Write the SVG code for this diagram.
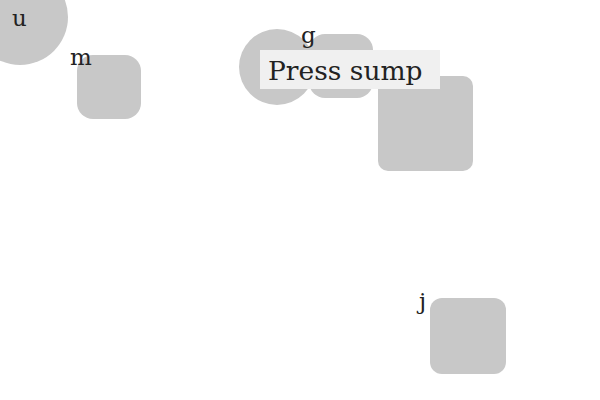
<svg xmlns="http://www.w3.org/2000/svg" width="600" height="400" viewBox="0 0 600 400">
<style>
.n{fill:#c8c8c8}
.t{font-family:"DejaVu Serif","Liberation Serif",serif;fill:#222;font-size:23px}
</style>
<rect width="600" height="400" fill="#fff"/>
<g id="connectors"></g>
<g id="node-u"><circle class="n" cx="20" cy="17" r="48"/><text class="t" x="12" y="26">u</text></g>
<g id="node-m"><rect class="n" x="77" y="55" width="64" height="64" rx="16"/><text class="t" x="70" y="65">m</text></g>
<g id="node-c"><circle class="n" cx="277" cy="67" r="38"/></g>
<g id="node-g"><rect class="n" x="309" y="34" width="64" height="64" rx="16"/><text class="t" x="301" y="43">g</text></g>
<g id="node-b"><rect class="n" x="378" y="76" width="95" height="95" rx="10"/></g>
<g id="node-j"><rect class="n" x="430" y="298" width="76" height="76" rx="12"/><text class="t" x="419" y="309">j</text></g>
<g id="label"><rect x="260" y="50" width="180" height="39" fill="#f0f0f0"/><text class="t" x="268" y="80" style="font-size:26.5px">Press sump</text></g>
</svg>
